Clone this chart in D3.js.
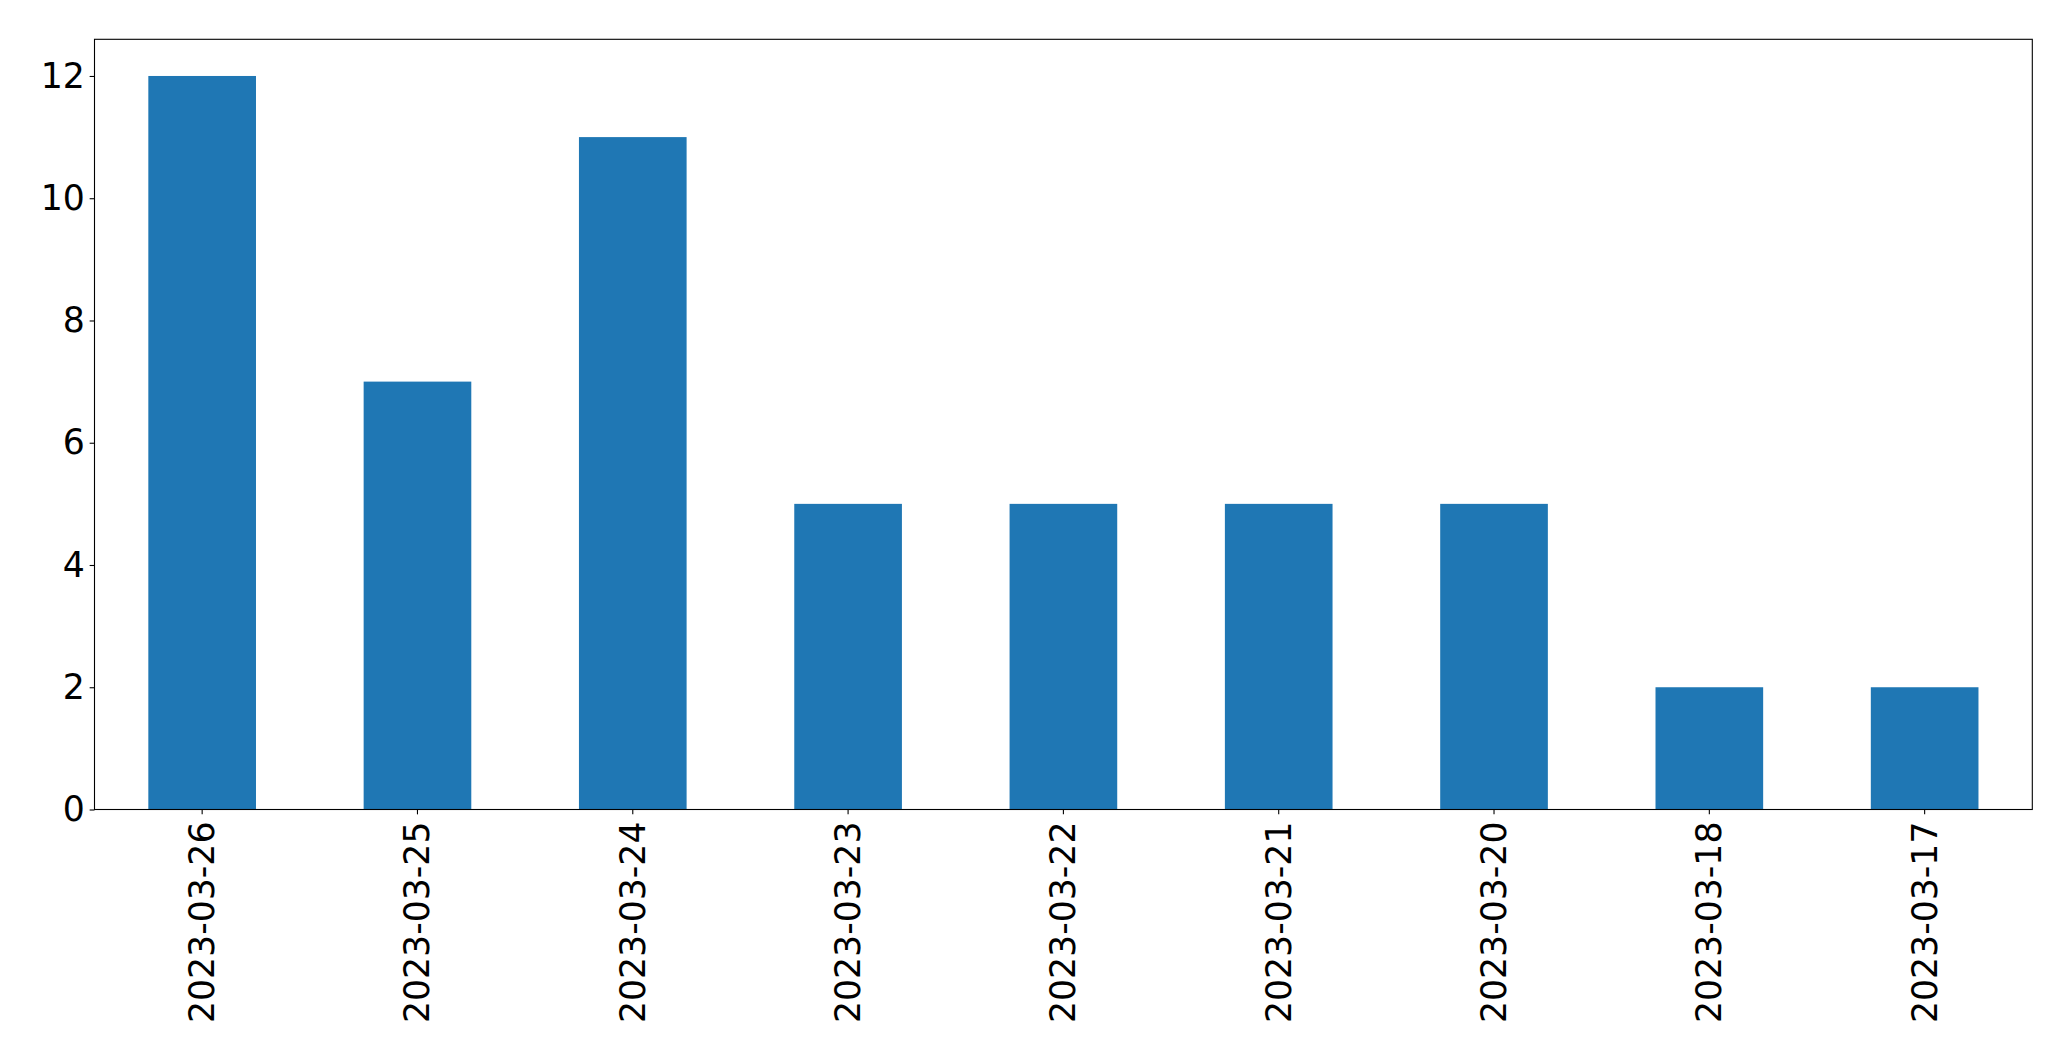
<!DOCTYPE html>
<html>
<head>
<meta charset="utf-8">
<script src="https://cdn.jsdelivr.net/npm/d3@7/dist/d3.min.js"></script>
<style>
html, body { margin: 0; padding: 0; background: #fff; }
svg { display: block; }
</style>
</head>
<body>
<svg id="chart" width="2071" height="1061"></svg>
<script>
const categories = ["2023-03-26", "2023-03-25", "2023-03-24", "2023-03-23", "2023-03-22", "2023-03-21", "2023-03-20", "2023-03-18", "2023-03-17"];
const values = [12, 7, 11, 5, 5, 5, 5, 2, 2];
const yTicks = [0, 2, 4, 6, 8, 10, 12];

const W = 2071, H = 1061;
const margin = { left: 94.5, right: W - 2032.3, top: 39.3, bottom: H - 809.5 };
const fontSize = 34.7;
const font = "DejaVu Sans, sans-serif";

const svg = d3.select("#chart");

const x = d3.scaleBand()
  .domain(categories)
  .range([margin.left, W - margin.right])
  .paddingInner(0.5)
  .paddingOuter(0.25);

const y = d3.scaleLinear()
  .domain([0, 12.6])
  .range([H - margin.bottom, margin.top]);

// bars
svg.append("g")
  .selectAll("rect")
  .data(values)
  .join("rect")
  .attr("x", (d, i) => x(categories[i]))
  .attr("width", x.bandwidth())
  .attr("y", d => y(d))
  .attr("height", d => y(0) - y(d))
  .attr("fill", "#1f77b4");

// y axis
const yAxis = svg.append("g")
  .attr("transform", `translate(${margin.left},0)`)
  .call(d3.axisLeft(y).tickValues(yTicks).tickSize(4.86).tickPadding(4.86).tickFormat(d3.format("d")));
yAxis.select(".domain").remove();
yAxis.selectAll("line").attr("stroke", "#000").attr("stroke-width", 1.1);
yAxis.selectAll("text")
  .attr("font-family", font)
  .attr("font-size", fontSize)
  .attr("fill", "#000");

// x axis
const xAxis = svg.append("g")
  .attr("transform", `translate(0,${H - margin.bottom})`)
  .call(d3.axisBottom(x).tickSize(4.86).tickPadding(0));
xAxis.select(".domain").remove();
xAxis.selectAll("line").attr("stroke", "#000").attr("stroke-width", 1.1);
xAxis.selectAll("text")
  .attr("font-family", font)
  .attr("font-size", fontSize)
  .attr("fill", "#000")
  .attr("text-anchor", "end")
  .attr("dy", null)
  .attr("y", null)
  .attr("transform", "translate(0,12) rotate(-90)")
  .attr("dominant-baseline", "central");

// frame
svg.append("rect")
  .attr("x", margin.left)
  .attr("y", margin.top)
  .attr("width", W - margin.right - margin.left)
  .attr("height", H - margin.bottom - margin.top)
  .attr("fill", "none")
  .attr("stroke", "#000")
  .attr("stroke-width", 1.1);
</script>
</body>
</html>
